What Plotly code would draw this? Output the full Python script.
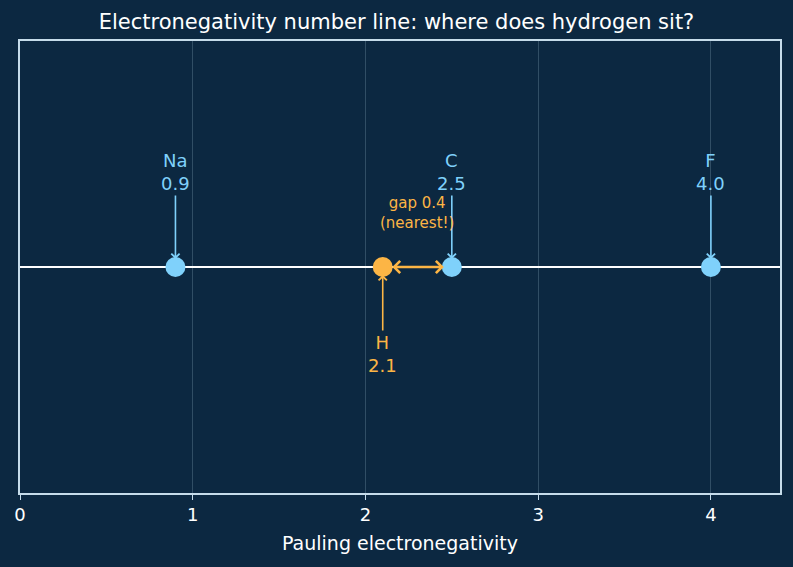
import plotly.graph_objects as go

elements = ["Na", "C", "F"]
values = [0.9, 2.5, 4.0]
h_label = "H"
h_value = 2.1
gap_text = "gap 0.4<br>(nearest!)"
xticks = [0, 1, 2, 3, 4]

BG = "#0c2841"
BLUE = "#7fd1fb"
ORANGE = "#fcb545"
FRAME = "#c6dcea"
FONT = "DejaVu Sans"

fig = go.Figure()
fig.add_trace(go.Scatter(x=values, y=[0] * len(values), mode="markers",
                         marker=dict(size=20, color=BLUE), hoverinfo="skip", showlegend=False))
fig.add_trace(go.Scatter(x=[h_value], y=[0], mode="markers",
                         marker=dict(size=20, color=ORANGE), hoverinfo="skip", showlegend=False))

for el, v in zip(elements, values):
    fig.add_annotation(x=v, y=0, text=f"{el}<br>{v:.1f}", showarrow=True,
                       ax=0, ay=-95, arrowhead=4, arrowsize=1.0, arrowwidth=1.6,
                       arrowcolor=BLUE, standoff=8, font=dict(color=BLUE, size=18, family=FONT))

fig.add_annotation(x=h_value, y=0, text=f"{h_label}<br>{h_value:.1f}", showarrow=True,
                   ax=0, ay=87, arrowhead=4, arrowsize=1.0, arrowwidth=1.6,
                   arrowcolor=ORANGE, standoff=8, font=dict(color=ORANGE, size=18, family=FONT))

fig.add_annotation(x=values[1], y=0, ax=h_value, ay=0, axref="x", ayref="y",
                   text="", showarrow=True, arrowhead=4, arrowside="end+start",
                   arrowsize=0.9, arrowwidth=2.6, arrowcolor=ORANGE, standoff=8, startstandoff=8)
fig.add_annotation(x=(h_value + values[1]) / 2, y=0.24, text=gap_text, showarrow=False,
                   font=dict(color=ORANGE, size=15, family=FONT))

fig.update_layout(
    width=793, height=567,
    paper_bgcolor=BG, plot_bgcolor=BG,
    margin=dict(l=20, r=13, t=41, b=74),
    font=dict(family=FONT, color="#ffffff", size=18),
    title=dict(text="Electronegativity number line: where does hydrogen sit?",
               x=0.5, xanchor="center", y=1 - 22 / 567, yanchor="middle",
               font=dict(size=21, color="#ffffff")),
    xaxis=dict(range=[0, 4.4], tickvals=xticks, ticks="outside", ticklen=5, tickcolor=FRAME,
               showgrid=True, gridcolor="rgba(160,190,210,0.25)", gridwidth=1,
               showline=True, linecolor=FRAME, linewidth=1.5, mirror=True, zeroline=False,
               title=dict(text="Pauling electronegativity", standoff=12, font=dict(size=19)),
               tickfont=dict(size=18)),
    yaxis=dict(range=[-1, 1], showticklabels=False, ticks="", showgrid=False,
               showline=True, linecolor=FRAME, linewidth=1.5, mirror=True,
               zeroline=True, zerolinecolor="#ffffff", zerolinewidth=2.2),
)

fig.write_html("out.html")
